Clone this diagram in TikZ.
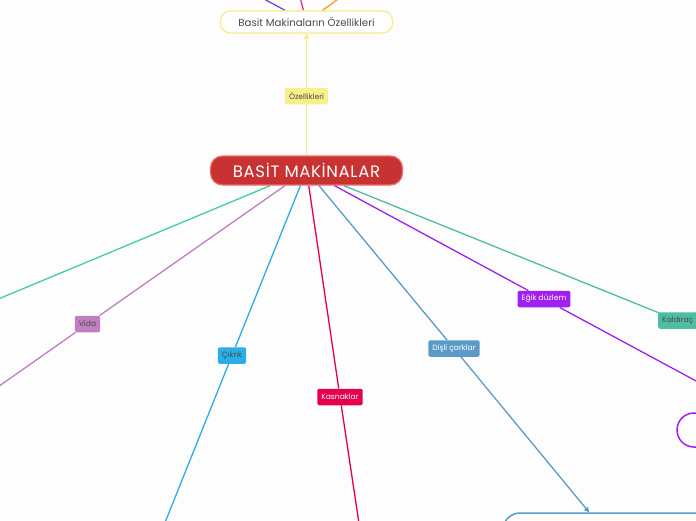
\documentclass[tikz,border=0pt]{standalone}
\usepackage{fontspec}
\setmainfont{Poppins}
\usepackage{tikz}
\usetikzlibrary{positioning,arrows.meta,backgrounds}
\definecolor{bgpage}{HTML}{FDFDFD}
\definecolor{rootred}{HTML}{C83232}
\definecolor{rootedge}{HTML}{F26B6B}
\definecolor{ozyellow}{HTML}{F5EC85}
\definecolor{ozfill}{HTML}{F7F08A}
\definecolor{kolgreen}{HTML}{3CD39A}
\definecolor{vidapink}{HTML}{C07FC0}
\definecolor{cikblue}{HTML}{2AAEE8}
\definecolor{kascrim}{HTML}{E4004B}
\definecolor{dislblue}{HTML}{5B9BC8}
\definecolor{egikviol}{HTML}{A020F0}
\definecolor{kalteal}{HTML}{4DBF9F}
\definecolor{topviol}{HTML}{6A4BE0}
\definecolor{toppink}{HTML}{D9368A}
\definecolor{toporange}{HTML}{FF9A2A}
\definecolor{txtgray}{HTML}{4A4A4A}

\begin{document}
\begin{tikzpicture}[x=1pt,y=-1pt,
  tag/.style={rounded corners=2pt,minimum height=16.5pt,inner xsep=4pt,inner ysep=0pt,font=\fontsize{7.6}{9}\selectfont},
  link/.style={line width=1.3pt},
  tip/.style={-{Triangle[length=5pt,width=5pt]}}]
\useasboundingbox (0,0) rectangle (696,520);
\node[draw=rootedge,fill=rootred,line width=1.2pt,rounded corners=12pt,minimum width=192pt,minimum height=29pt,text=white,font=\fontsize{16.5}{19}\selectfont\addfontfeatures{LetterSpace=4}] (root) at (306.5,170.5) {BASİT MAKİNALAR};
\node[draw=ozyellow,fill=white,line width=1.2pt,rounded corners=10pt,minimum width=172pt,minimum height=22pt,text=txtgray,font=\fontsize{10.2}{12}\selectfont] (ozb) at (306.5,22) {Basit Makinaların Özellikleri};
\node[tag,fill=ozfill,text=txtgray] (oz) at (306.5,96) {Özellikleri};
\node[tag,fill=vidapink,text=txtgray] (vida) at (87.5,324) {Vida};
\node[tag,fill=cikblue,text=txtgray] (cik) at (232,355.5) {Çıkrık};
\node[tag,fill=kascrim,text=white] (kas) at (340,397) {Kasnaklar};
\node[tag,fill=dislblue,text=white] (disl) at (454,348.5) {Dişli çarklar};
\node[tag,fill=egikviol,text=white] (egik) at (544,299) {Eğik düzlem};
\node[tag,fill=kalteal,text=txtgray,anchor=west] (kal) at (658,320.5) {Kaldıraç};
\node[draw=dislblue,line width=1.5pt,rounded corners=17pt,minimum width=218pt,minimum height=54pt] (dbox) at (612,540) {};
\node[draw=egikviol,line width=1.5pt,rounded corners=17pt,minimum width=220pt,minimum height=34pt] (ebox) at (787,430) {};
\coordinate (kolend) at (-100,340);
\coordinate (vidaend) at (-50,420.6);
\coordinate (cikend) at (150,560);
\coordinate (kasend) at (364.5,560);
\coordinate (kalend) at (800,368);
\coordinate (tvend) at (229,-20);
\coordinate (tpend) at (295.5,-20);
\coordinate (toend) at (364.3,-20);
\begin{scope}[on background layer]
\fill[bgpage] (0,0) rectangle (696,520);
\draw[link,ozyellow,tip] (root) -- (oz) -- (ozb);
\draw[link,topviol] (ozb) -- (tvend);
\draw[link,toppink] (ozb) -- (tpend);
\draw[link,toporange] (ozb) -- (toend);
\draw[link,kolgreen] (root) -- (kolend);
\draw[link,vidapink] (root) -- (vida) -- (vidaend);
\draw[link,cikblue] (root) -- (cik) -- (cikend);
\draw[link,kascrim] (root) -- (kas) -- (kasend);
\draw[link,dislblue,tip] (root) -- (disl) -- (dbox);
\draw[link,egikviol,tip] (root) -- (egik) -- (ebox);
\draw[link,kalteal] (root) -- (kal.center) -- (kalend);
\end{scope}
\end{tikzpicture}
\end{document}
